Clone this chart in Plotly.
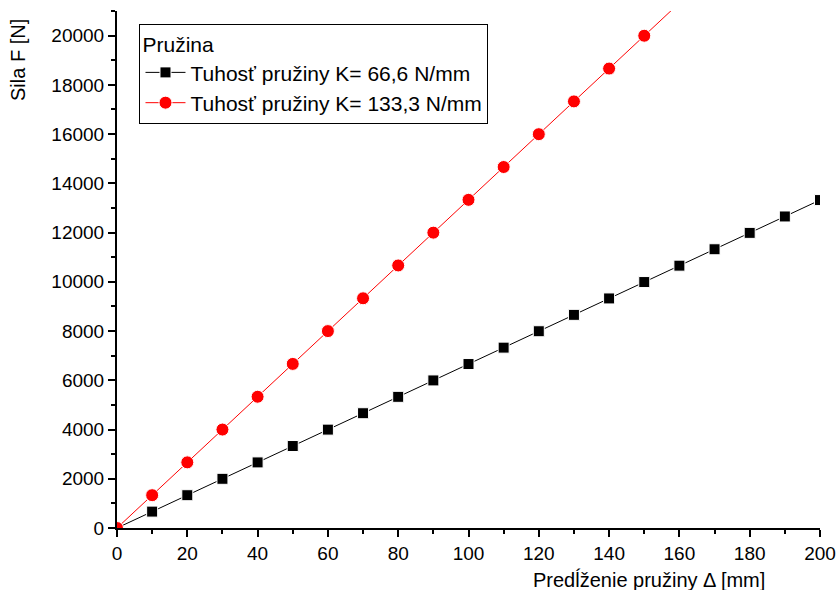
import plotly.graph_objects as go

x_vals = [0, 10, 20, 30, 40, 50, 60, 70, 80, 90, 100, 110, 120, 130, 140, 150,
          160, 170, 180, 190, 200]
f_k66 = [0, 666, 1332, 1998, 2664, 3330, 3996, 4662, 5328, 5994, 6660, 7326,
         7992, 8658, 9324, 9990, 10656, 11322, 11988, 12654, 13320]
f_k133 = [0, 1333, 2666, 3999, 5332, 6665, 7998, 9331, 10664, 11997, 13330,
          14663, 15996, 17329, 18662, 19995, 21328, 22661, 23994, 25327, 26660]

name_k66 = "Tuhosť pružiny K= 66,6 N/mm"
name_k133 = "Tuhosť pružiny K= 133,3 N/mm"
legend_title = "Pružina"
x_title = "Predĺženie pružiny Δ [mm]"
y_title = "Sila F [N]"

font = "Liberation Sans, Arial, sans-serif"

fig = go.Figure()
fig.add_trace(go.Scatter(
    x=x_vals, y=f_k66, mode="lines+markers", name=name_k66,
    line=dict(color="black", width=1),
    marker=dict(symbol="square", size=11, color="black",
                line=dict(color="white", width=1))))
fig.add_trace(go.Scatter(
    x=x_vals, y=f_k133, mode="lines+markers", name=name_k133,
    line=dict(color="red", width=1),
    marker=dict(symbol="circle", size=13, color="red",
                line=dict(color="white", width=1))))

axis_common = dict(showgrid=False, zeroline=False, showline=True,
                   linecolor="black", linewidth=2, ticks="outside",
                   ticklen=7, tickwidth=2, tickcolor="black", automargin=False,
                   tickfont=dict(size=19, color="black", family=font))

fig.update_xaxes(range=[0, 200], dtick=20, tick0=0,
                 minor=dict(ticks="outside", ticklen=4, dtick=10,
                            tickwidth=2, tickcolor="black"),
                 **axis_common)
fig.update_yaxes(range=[0, 21000], dtick=2000, tick0=0, tickformat="d",
                 minor=dict(ticks="outside", ticklen=4, dtick=1000,
                            tickwidth=2, tickcolor="black"),
                 **axis_common)

fig.update_layout(
    width=840, height=590,
    margin=dict(l=117, r=20, t=11, b=62),
    plot_bgcolor="white", paper_bgcolor="white",
    font=dict(family=font, color="black", size=20),
    legend=dict(x=0.032, y=0.975, xanchor="left", yanchor="top",
                bordercolor="black", borderwidth=1, bgcolor="white",
                title=dict(text=legend_title, font=dict(size=21)),
                font=dict(size=21), tracegroupgap=0, itemwidth=40),
    annotations=[
        dict(text=x_title, xref="paper", yref="paper", x=(649 - 117) / 703,
             y=-(579 - 528) / 517, xanchor="center", yanchor="middle",
             showarrow=False, font=dict(size=20)),
        dict(text=y_title, xref="paper", yref="paper", x=-(117 - 18) / 703,
             y=(528 - 60) / 517, xanchor="center", yanchor="middle",
             textangle=-90, showarrow=False, font=dict(size=20)),
    ],
)

fig.write_html("out.html")
